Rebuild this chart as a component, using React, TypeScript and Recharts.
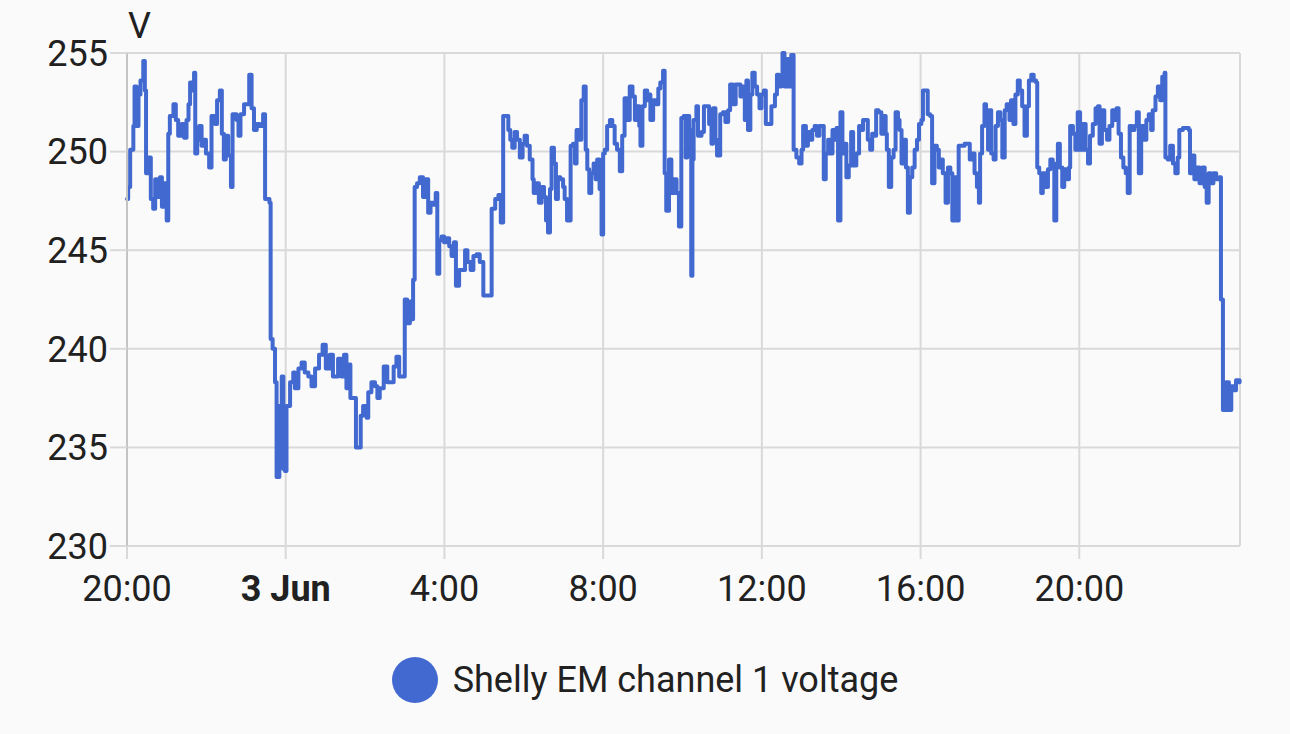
import { CartesianGrid, Legend, Line, LineChart, ReferenceLine, XAxis, YAxis } from "recharts";

// [hours since 20:00 on 2 Jun, volts]
const readings: [number, number][] = [
  [0, 247.6], [0.03, 248.2], [0.08, 250.1], [0.16, 251.3], [0.19, 253.3], [0.24, 251.3],
  [0.29, 252.9], [0.34, 253.6], [0.41, 254.6], [0.45, 253.1], [0.48, 248.9], [0.54, 249.7],
  [0.6, 247.6], [0.66, 247.1], [0.71, 248.6], [0.76, 247.7], [0.83, 248.7], [0.88, 247.2],
  [0.93, 248.4], [1.0, 246.5], [1.04, 250.9], [1.08, 251.8], [1.17, 252.4], [1.23, 251.6],
  [1.29, 250.8], [1.38, 251.4], [1.44, 250.7], [1.5, 251.6], [1.55, 252.4], [1.59, 253.5],
  [1.65, 253.1], [1.69, 254.0], [1.72, 249.9], [1.77, 250.6], [1.82, 251.3], [1.88, 250.3],
  [1.92, 250.6], [1.99, 249.9], [2.07, 249.2], [2.13, 251.8], [2.22, 251.4], [2.27, 252.6],
  [2.34, 253.1], [2.39, 250.9], [2.44, 249.6], [2.49, 250.8], [2.55, 249.8], [2.62, 248.2],
  [2.66, 251.9], [2.76, 251.6], [2.81, 250.8], [2.86, 251.9], [2.95, 252.4], [3.08, 253.9],
  [3.14, 252.2], [3.2, 251.1], [3.27, 251.4], [3.35, 251.3], [3.43, 251.9], [3.48, 247.6],
  [3.59, 247.4], [3.62, 240.5], [3.67, 240.0], [3.73, 238.3], [3.77, 233.5], [3.84, 237.1],
  [3.9, 238.6], [3.94, 233.9], [3.98, 233.8], [4.02, 237.1], [4.11, 238.3], [4.19, 238.8],
  [4.23, 238.0], [4.32, 239.0], [4.4, 239.3], [4.48, 238.8], [4.57, 238.6], [4.65, 238.1],
  [4.74, 239.0], [4.84, 239.7], [4.93, 240.2], [5.01, 239.0], [5.11, 239.7], [5.19, 238.6],
  [5.32, 239.5], [5.4, 238.6], [5.47, 239.7], [5.53, 238.0], [5.6, 239.2], [5.63, 237.5],
  [5.77, 235.0], [5.89, 236.6], [5.95, 237.1], [6.04, 236.5], [6.08, 237.8], [6.16, 238.3],
  [6.25, 238.1], [6.31, 237.5], [6.37, 238.0], [6.47, 239.1], [6.56, 238.3], [6.72, 239.1],
  [6.79, 239.6], [6.86, 238.6], [7.0, 242.5], [7.06, 241.3], [7.13, 242.4], [7.19, 241.5],
  [7.21, 243.5], [7.25, 248.2], [7.31, 248.4], [7.38, 248.7], [7.46, 247.7], [7.53, 248.6],
  [7.59, 246.9], [7.65, 247.4], [7.72, 247.3], [7.78, 247.9], [7.82, 243.8], [7.87, 245.5],
  [7.93, 245.7], [7.99, 245.4], [8.05, 245.6], [8.12, 245.2], [8.18, 244.7], [8.24, 245.4],
  [8.29, 243.2], [8.37, 244.0], [8.52, 245.0], [8.58, 244.4], [8.66, 244.0], [8.73, 244.7],
  [8.81, 244.8], [8.89, 244.4], [8.98, 242.7], [9.19, 247.1], [9.28, 247.6], [9.36, 247.8],
  [9.42, 246.4], [9.48, 251.8], [9.61, 251.1], [9.66, 250.6], [9.71, 250.2], [9.77, 251.0],
  [9.83, 250.6], [9.9, 249.7], [9.97, 250.4], [10.02, 250.8], [10.08, 250.3], [10.15, 249.6],
  [10.22, 248.6], [10.25, 247.9], [10.32, 248.4], [10.38, 247.4], [10.45, 248.2], [10.51, 247.7],
  [10.56, 246.5], [10.61, 245.9], [10.66, 248.1], [10.7, 250.2], [10.76, 249.4], [10.81, 247.6],
  [10.86, 248.7], [10.92, 248.6], [10.99, 248.2], [11.03, 247.6], [11.09, 246.5], [11.18, 250.3],
  [11.24, 250.4], [11.29, 249.4], [11.33, 251.1], [11.39, 250.6], [11.45, 252.6], [11.51, 253.3],
  [11.56, 250.1], [11.6, 249.1], [11.65, 247.9], [11.7, 248.9], [11.76, 249.4], [11.81, 248.6],
  [11.85, 249.6], [11.91, 248.1], [11.96, 245.8], [12.0, 249.9], [12.04, 250.1], [12.1, 251.3],
  [12.17, 251.6], [12.23, 251.3], [12.29, 250.4], [12.35, 250.1], [12.42, 249.0], [12.48, 250.8],
  [12.54, 252.7], [12.6, 251.6], [12.67, 253.3], [12.74, 252.8], [12.8, 251.6], [12.85, 252.3],
  [12.91, 251.3], [12.94, 250.3], [12.99, 252.3], [13.05, 253.1], [13.11, 252.6], [13.16, 252.9],
  [13.19, 251.6], [13.26, 252.6], [13.33, 252.4], [13.39, 253.2], [13.44, 253.5], [13.51, 254.1],
  [13.55, 248.9], [13.59, 247.0], [13.66, 249.6], [13.72, 247.9], [13.78, 248.6], [13.85, 247.9],
  [13.91, 246.2], [13.97, 251.7], [14.03, 251.8], [14.08, 249.7], [14.12, 251.8], [14.17, 251.1],
  [14.22, 243.7], [14.25, 249.6], [14.28, 251.6], [14.35, 252.3], [14.39, 250.8], [14.48, 251.0],
  [14.54, 252.3], [14.67, 251.4], [14.73, 250.4], [14.77, 252.2], [14.83, 250.6], [14.87, 249.8],
  [14.95, 251.9], [15.02, 252.0], [15.08, 251.5], [15.15, 252.1], [15.2, 253.4], [15.27, 252.4],
  [15.34, 253.4], [15.46, 252.8], [15.52, 253.3], [15.57, 251.6], [15.61, 253.6], [15.65, 251.1],
  [15.71, 252.9], [15.76, 254.0], [15.82, 253.3], [15.88, 252.9], [15.94, 252.2], [15.99, 252.9],
  [16.05, 253.1], [16.1, 251.4], [16.24, 252.3], [16.33, 252.9], [16.38, 253.9], [16.43, 253.3],
  [16.49, 253.7], [16.52, 255.0], [16.57, 253.3], [16.63, 254.7], [16.68, 253.3], [16.74, 254.9],
  [16.8, 250.1], [16.87, 249.7], [16.94, 249.4], [17.0, 250.1], [17.04, 251.3], [17.11, 250.3],
  [17.16, 251.0], [17.22, 250.6], [17.27, 251.1], [17.33, 251.3], [17.39, 250.8], [17.45, 251.3],
  [17.56, 248.6], [17.61, 249.9], [17.67, 250.6], [17.72, 249.9], [17.78, 251.1], [17.83, 250.6],
  [17.88, 251.2], [17.92, 246.5], [17.98, 252.0], [18.03, 249.9], [18.08, 250.4], [18.13, 248.7],
  [18.19, 249.3], [18.25, 251.0], [18.3, 249.3], [18.38, 249.9], [18.45, 251.3], [18.48, 251.1],
  [18.55, 251.6], [18.67, 250.6], [18.73, 250.1], [18.78, 250.9], [18.84, 250.8], [18.88, 252.1],
  [18.94, 252.0], [19.01, 250.9], [19.05, 251.8], [19.12, 250.9], [19.15, 250.1], [19.2, 248.2],
  [19.26, 249.7], [19.32, 250.1], [19.37, 252.0], [19.43, 251.6], [19.47, 251.1], [19.52, 249.4],
  [19.57, 250.6], [19.63, 249.2], [19.68, 246.9], [19.73, 248.7], [19.79, 249.2], [19.85, 250.1],
  [19.91, 250.6], [19.96, 251.4], [20.02, 251.6], [20.06, 253.1], [20.18, 251.9], [20.24, 251.8],
  [20.29, 248.4], [20.35, 250.3], [20.41, 250.1], [20.46, 249.2], [20.52, 249.6], [20.56, 248.9],
  [20.63, 247.4], [20.69, 249.2], [20.75, 248.9], [20.8, 246.5], [20.86, 248.7], [20.91, 246.5],
  [20.96, 250.3], [21.11, 250.4], [21.24, 249.6], [21.3, 249.9], [21.36, 248.9], [21.42, 248.2],
  [21.47, 247.4], [21.5, 249.9], [21.55, 251.3], [21.61, 252.4], [21.65, 252.1], [21.7, 250.1],
  [21.74, 252.1], [21.78, 249.9], [21.84, 249.6], [21.89, 251.3], [21.95, 252.0], [22.01, 251.6],
  [22.06, 249.7], [22.12, 252.1], [22.17, 252.4], [22.24, 251.6], [22.28, 252.6], [22.34, 251.4],
  [22.39, 252.9], [22.45, 253.6], [22.5, 253.1], [22.56, 252.3], [22.62, 250.8], [22.68, 252.3],
  [22.73, 253.6], [22.79, 253.9], [22.85, 253.6], [22.91, 253.5], [22.94, 249.2], [22.99, 248.9],
  [23.04, 247.9], [23.08, 248.9], [23.15, 248.2], [23.21, 249.1], [23.27, 249.6], [23.33, 249.4],
  [23.37, 246.5], [23.42, 249.2], [23.46, 250.4], [23.51, 249.2], [23.57, 248.2], [23.62, 249.1],
  [23.69, 248.6], [23.74, 249.2], [23.77, 251.3], [23.84, 250.9], [23.9, 250.1], [23.96, 252.0],
  [24.02, 250.1], [24.09, 251.4], [24.16, 250.1], [24.22, 249.4], [24.27, 250.8], [24.34, 251.4],
  [24.41, 252.2], [24.47, 252.3], [24.51, 250.4], [24.57, 252.1], [24.63, 251.1], [24.7, 250.6],
  [24.76, 251.3], [24.83, 252.1], [24.89, 251.6], [24.94, 252.2], [24.99, 250.9], [25.05, 249.7],
  [25.11, 249.2], [25.17, 248.9], [25.22, 247.9], [25.27, 251.3], [25.33, 251.1], [25.39, 251.3],
  [25.45, 252.0], [25.5, 248.9], [25.56, 251.3], [25.62, 250.6], [25.69, 251.6], [25.75, 251.9],
  [25.81, 251.1], [25.85, 252.1], [25.92, 252.8], [25.98, 253.3], [26.04, 252.6], [26.09, 253.8],
  [26.15, 254.0], [26.17, 249.7], [26.23, 249.6], [26.29, 250.3], [26.36, 249.4], [26.42, 248.9],
  [26.48, 249.7], [26.52, 251.1], [26.61, 251.2], [26.76, 251.1], [26.79, 248.9], [26.84, 249.8],
  [26.9, 248.6], [26.96, 249.2], [27.03, 248.4], [27.1, 249.2], [27.16, 248.2], [27.21, 247.4],
  [27.26, 248.9], [27.32, 248.4], [27.38, 248.9], [27.45, 248.6], [27.53, 248.7], [27.57, 242.5],
  [27.62, 236.9], [27.7, 238.3], [27.77, 236.9], [27.83, 238.1], [27.89, 237.9], [27.95, 238.4],
  [28.0, 238.3], [28.04, 238.4],
];

const xTicks = [0, 4, 8, 12, 16, 20, 24];
const xTickLabels = ["20:00", "3 Jun", "4:00", "8:00", "12:00", "16:00", "20:00"];
const yTicks = [230, 235, 240, 245, 250, 255];
const seriesName = "Shelly EM channel 1 voltage";
const unit = "V";

const data = readings.map(([t, v]) => ({ t, v }));

const LINE = "#4269d0";
const GRID = "#d9d9d9";
const TEXT = "#212121";

function TimeTick(props: any) {
  const { x, y, payload, index } = props;
  const i = xTicks.indexOf(payload.value);
  return (
    <text
      x={x}
      y={y}
      dy="0.71em"
      textAnchor="middle"
      fill={TEXT}
      fontSize={36}
      fontWeight={i === 1 ? 700 : 400}
    >
      {xTickLabels[i >= 0 ? i : index]}
    </text>
  );
}

function LegendBox() {
  return (
    <div style={{ display: "flex", justifyContent: "center", alignItems: "center", height: 90 }}>
      <span
        style={{ width: 46, height: 46, borderRadius: "50%", background: LINE, marginRight: 15, display: "inline-block" }}
      />
      <span style={{ fontSize: 36, color: TEXT }}>{seriesName}</span>
    </div>
  );
}

export default function App() {
  return (
    <div
      style={{
        position: "absolute",
        left: 0,
        top: 0,
        width: 1290,
        height: 734,
        background: "#fafafa",
        fontFamily: "Roboto, sans-serif",
      }}
    >
      <LineChart width={1290} height={734} data={data} margin={{ top: 53, right: 50, bottom: 9, left: 0 }}>
        <CartesianGrid stroke={GRID} strokeWidth={2} />
        <XAxis
          dataKey="t"
          type="number"
          domain={[0, 28.05]}
          ticks={xTicks}
          height={89}
          axisLine={false}
          tickLine={{ stroke: GRID, strokeWidth: 2 }}
          tickSize={13}
          tickMargin={16}
          tick={<TimeTick />}
          interval={0}
        />
        <YAxis
          domain={[230, 255]}
          ticks={yTicks}
          width={127}
          axisLine={{ stroke: "#c4c4c4", strokeWidth: 2 }}
          tickLine={{ stroke: GRID, strokeWidth: 2 }}
          tickSize={17}
          tickMargin={2}
          tick={{ fill: TEXT, fontSize: 36 }}
          label={(p: any) => {
            const vb = p.viewBox;
            return (
              <text x={vb.x + vb.width + 1} y={vb.y - 15} fill={TEXT} fontSize={36}>
                {unit}
              </text>
            );
          }}
        />
        <ReferenceLine x={28.05} stroke={GRID} strokeWidth={2} />
        <Legend
          verticalAlign="bottom"
          content={<LegendBox />}
          wrapperStyle={{ left: 0, width: 1290 }}
        />
        <Line
          type="stepAfter"
          dataKey="v"
          name={seriesName}
          stroke={LINE}
          strokeWidth={4}
          strokeLinejoin="round"
          strokeLinecap="round"
          dot={false}
          isAnimationActive={false}
        />
      </LineChart>
    </div>
  );
}
